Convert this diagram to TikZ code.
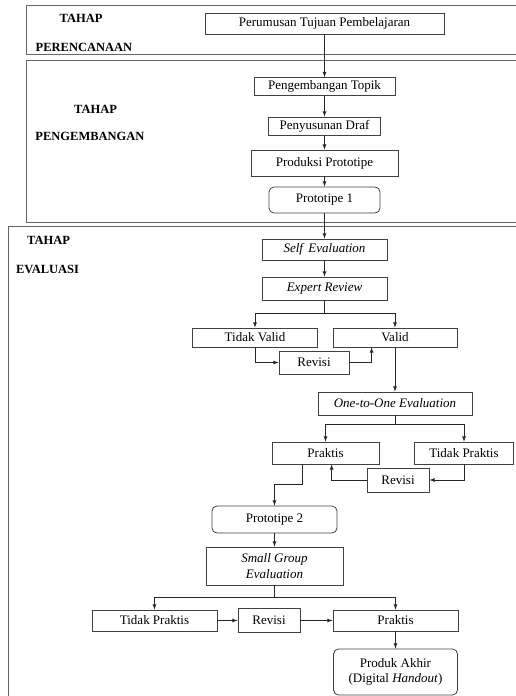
\documentclass[tikz,border=0pt]{standalone}
\usepackage{fontspec}
\setmainfont{Liberation Serif}
\usetikzlibrary{calc,arrows}

\tikzset{
  box/.style={draw=black!75, line width=0.8pt, inner sep=1pt, align=center,
    font=\fontsize{13}{15.5}\selectfont},
  rbox/.style={box, rounded corners=5pt},
  boxsize/.style 2 args={minimum width=#1pt, minimum height=#2pt},
  panel/.style={draw=black!60, line width=0.8pt},
  stage/.style={inner sep=0pt, font=\fontsize{12.5}{15}\selectfont\bfseries},
  arr/.style={->, >=latex, line width=0.8pt, draw=black!85},
}

\begin{document}
\begin{tikzpicture}[x=1pt,y=-1pt]
\clip (0,0) rectangle (516,696);

\draw[panel] (26,5) rectangle (530,54);
\draw[panel] (26,60) rectangle (530,222);
\draw[panel] (8,226) rectangle (530,710);

\node[stage] (tahapA) at (81,18) {TAHAP};
\node[stage] (rencana) at (84,47.5) {PERENCANAAN};
\node[stage] (tahapB) at (95.5,109) {TAHAP};
\node[stage] (kembang) at (90,136.5) {PENGEMBANGAN};
\node[stage] (tahapC) at (48.5,240) {TAHAP};
\node[stage] (evaluasi) at (47.5,269.5) {EVALUASI};

\node[box, boxsize={239}{21}] (tujuan) at (324.5,23.5) {Perumusan Tujuan Pembelajaran};
\node[box, boxsize={141}{18}] (topik) at (324.5,86.5) {Pengembangan Topik};
\node[box, boxsize={112}{18}] (draf) at (324.5,126) {Penyusunan Draf};
\node[box, boxsize={147}{26}] (produksi) at (324.5,163) {Produksi Prototipe};
\node[rbox, boxsize={111}{26}] (protoA) at (324.5,200) {Prototipe 1};

\node[box, boxsize={125}{21}] (self) at (324.5,249.5) {\textit{Self\, Evaluation}};
\node[box, boxsize={125}{23}] (expert) at (324.5,288.5) {\textit{Expert Review}};
\node[box, boxsize={125}{19}] (tvalid) at (255,337.5) {Tidak Valid};
\node[box, boxsize={124}{19}] (valid) at (395,337.5) {Valid};
\node[box, boxsize={70}{23}] (revisiA) at (314,362.5) {Revisi};

\node[box, boxsize={154}{23}] (one) at (395,403.5) {\textit{One-to-One Evaluation}};
\node[box, boxsize={107}{22}] (praktisA) at (325.5,453) {Praktis};
\node[box, boxsize={99}{22}] (tpraktisA) at (464,453) {Tidak Praktis};
\node[box, boxsize={62}{24}] (revisiB) at (398,480) {Revisi};

\node[rbox, boxsize={125}{27}] (protoB) at (274.5,519.5) {Prototipe 2};
\node[box, boxsize={137}{38}] (small) at (274.5,566) {\textit{Small Group}\\\textit{Evaluation}};
\node[box, boxsize={125}{21}] (tpraktisB) at (154.5,620.5) {Tidak Praktis};
\node[box, boxsize={62}{24}] (revisiC) at (269,620.5) {Revisi};
\node[box, boxsize={125}{21}] (praktisB) at (395.5,620.5) {Praktis};
\node[rbox, boxsize={124}{46}] (produk) at (395.5,672) {Produk Akhir\\(Digital \textit{Handout})};

\draw[arr] (tujuan) -- (topik);
\draw[arr] (topik) -- (draf);
\draw[arr] (draf) -- (produksi);
\draw[arr] (produksi) -- (protoA);
\draw[arr] (protoA) -- (self);
\draw[arr] (self) -- (expert);

\draw[arr] (expert.south) -- ++(0,13) -| (tvalid.north);
\draw[arr] (expert.south) -- ++(0,13) -| (valid.north);
\draw[arr] (tvalid.south) |- (revisiA.west);
\draw[arr] (revisiA.east) -| ([xshift=39pt]valid.south west);
\draw[arr] (valid) -- (one);

\draw[arr] (one.south) -- ++(0,9) -| (praktisA.north);
\draw[arr] (one.south) -- ++(0,9) -| (tpraktisA.north);
\draw[arr] (tpraktisA.south) |- (revisiB.east);
\draw[arr] (revisiB.west) -| ([xshift=60pt]praktisA.south west);
\draw[arr] ([xshift=31pt]praktisA.south west) -- ++(0,20) -| (protoB.north);

\draw[arr] (protoB) -- (small);
\draw[arr] (small.south) -- ++(0,12) -| (tpraktisB.north);
\draw[arr] (small.south) -- ++(0,12) -| (praktisB.north);
\draw[arr] (tpraktisB) -- (revisiC);
\draw[arr] (revisiC) -- (praktisB);
\draw[arr] (praktisB) -- (produk);
\end{tikzpicture}
\end{document}
